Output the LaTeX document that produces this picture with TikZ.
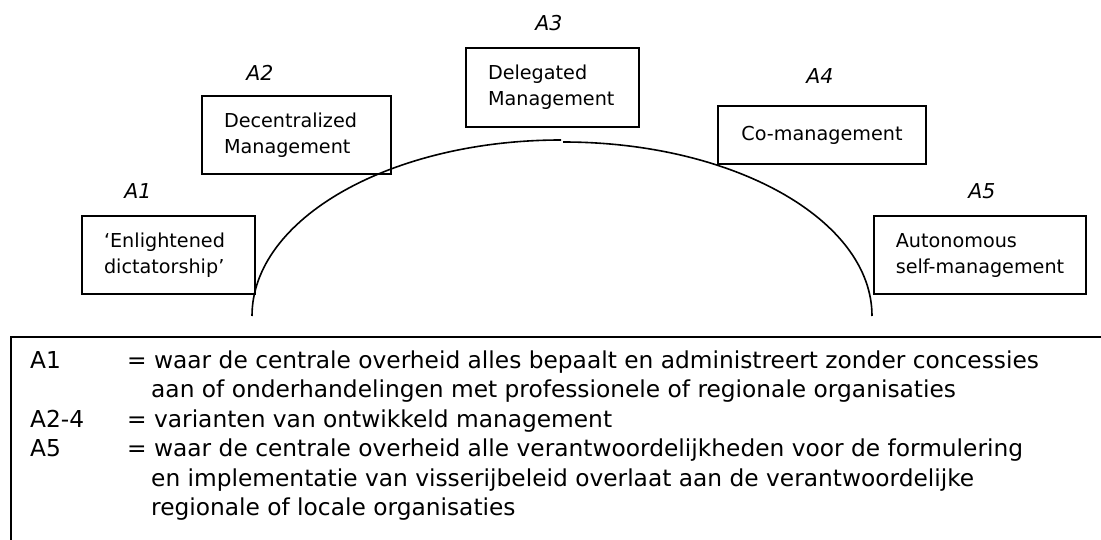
\documentclass[tikz,border=0pt]{standalone}
\usepackage{fontspec}
\newfontfamily\dvs{DejaVu Sans}
\begin{document}
\begin{tikzpicture}[x=1pt,y=-1pt,
  mybox/.style={draw, line width=1.4pt, inner sep=0pt, align=left,
    font=\dvs\fontsize{19.2}{26}\selectfont},
  lbl/.style={inner sep=0pt, font=\dvs\itshape\fontsize{20.5}{24}\selectfont},
  leg/.style={inner sep=0pt, anchor=base west, font=\dvs\fontsize{23.3}{29}\selectfont},
  curve/.style={line width=1.6pt}]
\fill[white] (0,0) rectangle (1101,540);
\useasboundingbox (0,0) rectangle (1101,540);
% boxes
\node[mybox, minimum width=173pt, minimum height=78pt, text width=129pt, inner xsep=22pt] (b1) at (168.5,255) {‘Enlightened\\dictatorship’};
\node[mybox, minimum width=189pt, minimum height=78pt, text width=145pt, inner xsep=22pt] (b2) at (296.5,135) {Decentralized\\Management};
\node[mybox, minimum width=173pt, minimum height=79pt, text width=129pt, inner xsep=22pt] (b3) at (552.5,87.5) {Delegated\\Management};
\node[mybox, minimum width=208pt, minimum height=58pt] (b4) at (822,135) {Co-management};
\node[mybox, minimum width=212pt, minimum height=78pt] (b5) at (980,255) {Autonomous\\self-management};
% labels
\node[lbl] (l1) at (138,191) {A1};
\node[lbl] (l2) at (260,73) {A2};
\node[lbl] (l3) at (549,23) {A3};
\node[lbl] (l4) at (820,76) {A4};
\node[lbl] (l5) at (982,191) {A5};
% arc
\coordinate (arcL) at (252,316);
\coordinate (arcR) at (872,316);
\draw[curve] (arcL) arc[start angle=180, end angle=90, x radius=309pt, y radius=176pt];
\draw[curve] (arcR) arc[start angle=0, end angle=90, x radius=309pt, y radius=174pt];
% legend frame
\coordinate (fBL) at (11,540);
\coordinate (fTL) at (11,337);
\coordinate (fTR) at (1101,337);
\draw[line width=1.6pt] (fBL) -- (fTL) -- (fTR);
% legend text
\node[leg] (k1) at (30,368) {A1};
\node[leg] (t1) at (127,368) {= waar de centrale overheid alles bepaalt en administreert zonder concessies};
\node[leg] (t1b) at (151,397.5) {aan of onderhandelingen met professionele of regionale organisaties};
\node[leg] (k2) at (30,427) {A2-4};
\node[leg] (t2) at (127,427) {= varianten van ontwikkeld management};
\node[leg] (k3) at (30,456.5) {A5};
\node[leg] (t3) at (127,456.5) {= waar de centrale overheid alle verantwoordelijkheden voor de formulering};
\node[leg] (t3b) at (151,486) {en implementatie van visserijbeleid overlaat aan de verantwoordelijke};
\node[leg] (t3c) at (151,515.5) {regionale of locale organisaties};
\end{tikzpicture}
\end{document}
